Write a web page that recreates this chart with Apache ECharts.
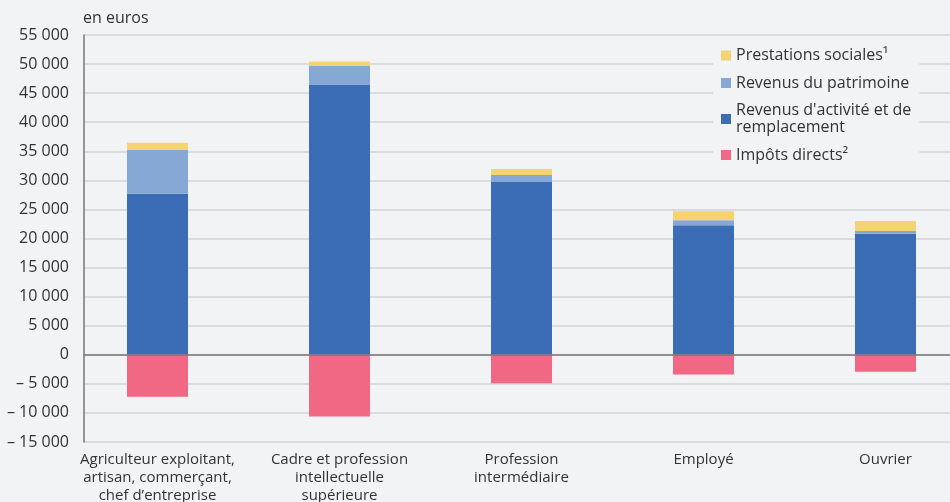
<!DOCTYPE html>
<html>
<head>
<meta charset="utf-8">
<script src="https://cdn.jsdelivr.net/npm/echarts@6/dist/echarts.min.js"></script>
<style>
html,body{margin:0;padding:0;background:#f2f3f5;}
#chart{width:950px;height:502px;}
</style>
</head>
<body>
<div id="chart"></div>
<script>
var categories = [
  'Agriculteur exploitant,\nartisan, commerçant,\nchef d\u2019entreprise',
  'Cadre et profession\nintellectuelle\nsupérieure',
  'Profession\nintermédiaire',
  'Employé',
  'Ouvrier'
];
var revenusActivite = [27700, 46400, 29700, 22300, 20800];
var revenusPatrimoine = [7550, 3250, 1200, 850, 500];
var prestationsSociales = [1200, 800, 1050, 1550, 1700];
var impotsDirects = [-7200, -10600, -4900, -3400, -2900];

var seriesNames = ['Prestations sociales\u00b9', 'Revenus du patrimoine', 'Revenus d\'activité et de\nremplacement', 'Impôts directs\u00b2'];
var yMin = -15000, yMax = 55000, yStep = 5000;

var FONT = '"Open Sans", "Noto Sans", sans-serif';
var TXT = '#333333';

function fmt(v) {
  var a = Math.abs(v);
  var s = String(a).replace(/\B(?=(\d{3})+(?!\d))/g, ' ');
  return v < 0 ? '\u2013 ' + s : s;
}

var chart = echarts.init(document.getElementById('chart'), null, {renderer: 'canvas'});
var option = {
  backgroundColor: '#f2f3f5',
  animation: false,
  textStyle: {fontFamily: FONT},
  title: {
    text: 'en euros', left: 83, top: 10, padding: 0,
    textStyle: {fontFamily: FONT, fontSize: 16, fontWeight: 'normal', color: TXT}
  },
  legend: {
    orient: 'vertical', left: 713, top: 42,
    padding: [5, 8, 5, 8],
    backgroundColor: '#f2f3f5',
    itemWidth: 10, itemHeight: 10, itemGap: 10.5,
    icon: 'rect',
    data: [seriesNames[0], seriesNames[1], seriesNames[2], seriesNames[3]],
    textStyle: {fontFamily: FONT, fontSize: 16, color: TXT, lineHeight: 17}
  },
  grid: [
    {left: 66.5, right: -26.5, top: 35, bottom: 60, containLabel: false, outerBoundsMode: 'none'},
    {left: 84, right: 0, top: 35, bottom: 60, containLabel: false, outerBoundsMode: 'none'}
  ],
  xAxis: [
    {
      gridIndex: 0, type: 'category', data: categories, boundaryGap: true,
      axisLine: {show: false, onZero: false}, axisTick: {show: false},
      axisLabel: {interval: 0, margin: 9, fontFamily: FONT, fontSize: 15, lineHeight: 18, color: TXT},
      splitLine: {show: false}
    },
    {
      gridIndex: 1, type: 'value', min: 0, max: 1, z: 10,
      axisLine: {show: true, onZero: true, lineStyle: {color: '#777777', width: 1.5}},
      axisTick: {show: false}, axisLabel: {show: false}, splitLine: {show: false}
    }
  ],
  yAxis: [
    {gridIndex: 0, type: 'value', min: yMin, max: yMax, interval: yStep, show: false},
    {
      gridIndex: 1, type: 'value', min: yMin, max: yMax, interval: yStep,
      axisLine: {show: true, lineStyle: {color: '#777777', width: 1.5}},
      axisTick: {show: false},
      axisLabel: {margin: 15, fontFamily: FONT, fontSize: 16, color: TXT, formatter: fmt},
      splitLine: {show: true, lineStyle: {color: '#d2d3d5', width: 1.5}}
    }
  ],
  series: [
    {name: seriesNames[2], type: 'bar', stack: 'a', xAxisIndex: 0, yAxisIndex: 0, barWidth: 61,
     itemStyle: {color: '#3a6db5'}, data: revenusActivite},
    {name: seriesNames[1], type: 'bar', stack: 'a', xAxisIndex: 0, yAxisIndex: 0, barWidth: 61,
     itemStyle: {color: '#86a8d4'}, data: revenusPatrimoine},
    {name: seriesNames[0], type: 'bar', stack: 'a', xAxisIndex: 0, yAxisIndex: 0, barWidth: 61,
     itemStyle: {color: '#f5d372'}, data: prestationsSociales},
    {name: seriesNames[3], type: 'bar', stack: 'a', xAxisIndex: 0, yAxisIndex: 0, barWidth: 61,
     itemStyle: {color: '#f06883'}, data: impotsDirects}
  ]
};
chart.setOption(option);
</script>
</body>
</html>
